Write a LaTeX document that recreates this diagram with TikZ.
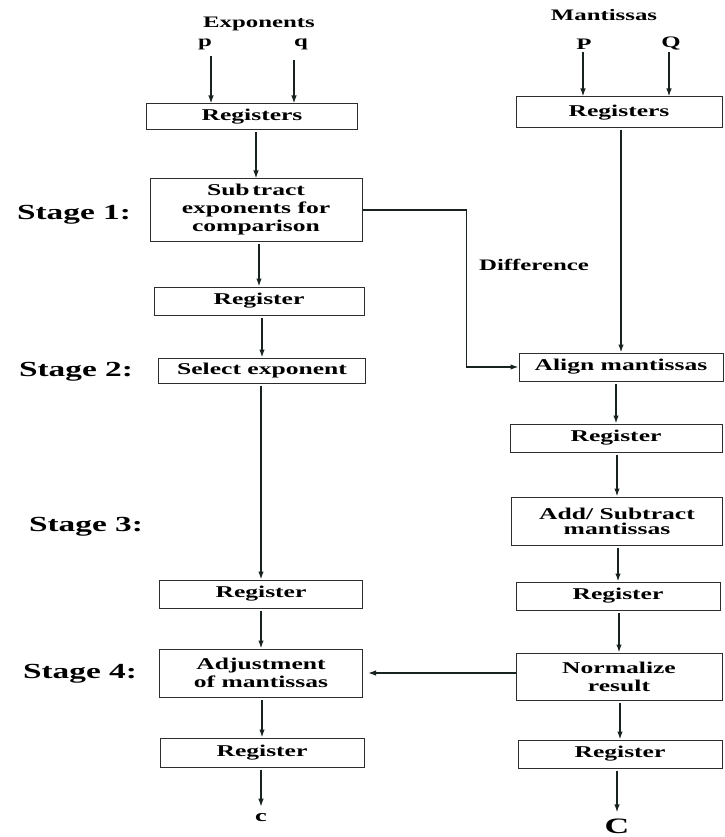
\documentclass[tikz,border=0pt]{standalone}
\usepackage{fontspec}
\setmainfont{Liberation Serif}[FakeStretch=1.55]
\usetikzlibrary{arrows.meta}
\definecolor{ink}{RGB}{25,35,30}
\definecolor{frame}{RGB}{45,45,45}
\begin{document}
\begin{tikzpicture}[x=1pt,y=-1pt,
  box/.style={draw=frame,line width=1pt,rectangle,inner sep=0pt,align=center,
    font=\bfseries\fontsize{16.5}{18}\selectfont},
  lbl/.style={inner sep=0pt,font=\bfseries\fontsize{16}{18}\selectfont},
  stagelbl/.style={inner sep=0pt,font=\bfseries\fontsize{21.5}{24}\selectfont},
  arr/.style={draw=ink,line width=1.4pt,shorten <=2pt,-{Latex[length=8pt,width=5.5pt]}}]
\useasboundingbox (0,0) rectangle (724,837);

% input labels
\node[lbl] (expo) at (259,24) {Exponents};
\node[lbl] (p) at (205,44) {p};
\node[lbl] (q) at (301,44) {q};
\node[lbl] (mant) at (604,15) {Mantissas};
\node[lbl] (P) at (584,44) {P};
\node[lbl] (Q) at (671,44) {Q};
\coordinate (pin) at (211,56);
\coordinate (qin) at (294,60);
\coordinate (Pin) at (583,52);
\coordinate (Qin) at (669,52);

% stage labels
\node[stagelbl] (s1) at (74,215) {Stage 1:};
\node[stagelbl] (s2) at (76,372) {Stage 2:};
\node[stagelbl] (s3) at (86,527) {Stage 3:};
\node[stagelbl] (s4) at (80,674) {Stage 4:};

% exponent pipeline
\node[box,minimum width=211pt,minimum height=26pt] (reg0) at (252,117) {Registers};
\node[box,minimum width=212pt,minimum height=62pt] (sub) at (256,210)
  {Sub\,tract\\exponents for\\comparison};
\node[box,minimum width=210pt,minimum height=28pt] (reg1) at (259,301) {Register};
\node[box,minimum width=207pt,minimum height=25pt] (sel) at (262,370.5) {Select exponent};
\node[box,minimum width=203pt,minimum height=28pt] (reg2) at (261,594) {Register};
\node[box,minimum width=203pt,minimum height=48pt] (adj) at (261,673)
  {Adjustment\\of mantissas};
\node[box,minimum width=204pt,minimum height=29pt] (reg3) at (262,752.5) {Register};
\node[lbl,font=\bfseries\fontsize{17}{18}\selectfont] (cout) at (261,818) {c};

% mantissa pipeline
\node[box,minimum width=206pt,minimum height=31pt] (rreg0) at (619,112.5) {Registers};
\node[box,minimum width=204pt,minimum height=28pt] (align) at (621,367) {Align mantissas};
\node[box,minimum width=212pt,minimum height=28pt] (rreg1) at (616,438) {Register};
\node[box,minimum width=211pt,minimum height=48pt] (add) at (617,521)
  {Add/ Subtract\\[-3pt]mantissas};
\node[box,minimum width=204pt,minimum height=28pt] (rreg2) at (618,596) {Register};
\node[box,minimum width=206pt,minimum height=47pt] (norm) at (619,676.5)
  {Normalize\\result};
\node[box,minimum width=204pt,minimum height=28pt] (rreg3) at (620,754) {Register};
\node[lbl,font=\bfseries\fontsize{22}{24}\selectfont] (Cout) at (617,826) {C};

\node[lbl] (diff) at (534,265) {Difference};

% inputs
\draw[arr,shorten <=0pt] (pin) -- (reg0.north -| pin);
\draw[arr,shorten <=0pt] (qin) -- (reg0.north -| qin);
\draw[arr,shorten <=0pt] (Pin) -- (rreg0.north -| Pin);
\draw[arr,shorten <=0pt] (Qin) -- (rreg0.north -| Qin);

% exponent flow
\draw[arr] (sub.north |- reg0.south) -- (sub.north);
\draw[arr] (reg1.north |- sub.south) -- (reg1.north);
\draw[arr] (sel.north |- reg1.south) -- (sel.north);
\draw[arr] (reg2.north |- sel.south) -- (reg2.north);
\draw[arr] (adj.north |- reg2.south) -- (adj.north);
\draw[arr] (reg3.north |- adj.south) -- (reg3.north);
\draw[arr,shorten >=7pt] (cout.north |- reg3.south) -- (cout.north);

% mantissa flow
\draw[arr] (align.north |- rreg0.south) -- (align.north);
\draw[arr] (rreg1.north |- align.south) -- (rreg1.north);
\draw[arr] (add.north |- rreg1.south) -- (add.north);
\draw[arr] (rreg2.north |- add.south) -- (rreg2.north);
\draw[arr] (norm.north |- rreg2.south) -- (norm.north);
\draw[arr] (rreg3.north |- norm.south) -- (rreg3.north);
\draw[arr,shorten >=6pt] (Cout.north |- rreg3.south) -- (Cout.north);

% cross connections
\draw[arr,shorten <=0pt] (sub.east) -- ++(104,0) |- (align.west);
\draw[arr,shorten <=0pt,shorten >=5pt] (norm.west |- adj.east) -- (adj.east);
\end{tikzpicture}
\end{document}
